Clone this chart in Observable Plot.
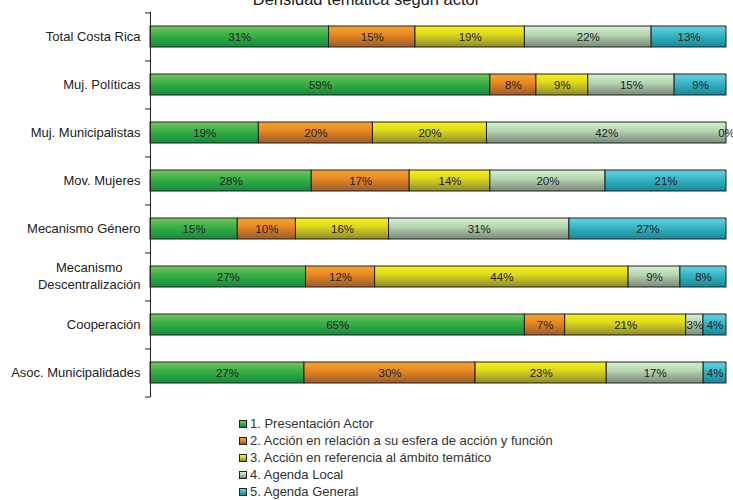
<!DOCTYPE html>
<html>
<head>
<meta charset="utf-8">
<script src="https://cdn.jsdelivr.net/npm/d3@7"></script>
<script src="https://cdn.jsdelivr.net/npm/@observablehq/plot@0.6"></script>
<style>
  html, body { margin: 0; padding: 0; background: #fff; overflow: hidden; }
  body { width: 733px; height: 500px; position: relative; font-family: "Liberation Sans", Arial, sans-serif; color: #222; }
  #title { position: absolute; left: 0; width: 733px; top: -9px; text-align: center; font-size: 16.5px; line-height: 16px; color: #222; z-index: 2; }
  #chart { position: absolute; left: 0; top: 0; z-index: 1; }
  #legend { position: absolute; left: 239px; top: 415px; font-size: 13px; color: #333; z-index: 2; }
  .li { height: 17px; line-height: 17px; display: flex; align-items: center; white-space: nowrap; }
  .sw { width: 6px; height: 6px; border: 1px solid #222; margin-right: 3px; }
</style>
</head>
<body>
<div id="chart"></div>
<div id="title">Densidad temática según actor</div>
<div id="legend"></div>
<script>
const actors = ["Total Costa Rica", "Muj. Políticas", "Muj. Municipalistas", "Mov. Mujeres", "Mecanismo Género", "Mecanismo Descentralización", "Cooperación", "Asoc. Municipalidades"];
const series = ["1. Presentación Actor", "2. Acción en relación a su esfera de acción y función", "3. Acción en referencia al ámbito temático", "4. Agenda Local", "5. Agenda General"];
const presentacion   = [31, 59, 19, 28, 15, 27, 65, 27];
const accionEsfera   = [15,  8, 20, 17, 10, 12,  7, 30];
const accionTematico = [19,  9, 20, 14, 16, 44, 21, 23];
const agendaLocal    = [22, 15, 42, 20, 31,  9,  3, 17];
const agendaGeneral  = [13,  9,  0, 21, 27,  8,  4,  4];

const seriesValues = [presentacion, accionEsfera, accionTematico, agendaLocal, agendaGeneral];
const grads = [
  ["#74c858", "#3db24a", "#15883b"],
  ["#f8a334", "#e88a22", "#985a2d"],
  ["#f6f224", "#dcd81e", "#8e892e"],
  ["#d6eed2", "#b8d6b4", "#788a78"],
  ["#6ad0de", "#3ab8c8", "#188594"]
];

const data = [];
actors.forEach((a, i) => {
  series.forEach((s, k) => data.push({actor: a, serie: s, value: seriesValues[k][i]}));
});

const W = 733, H = 410, mT = 12, mB = 13;
const step = (H - mT - mB) / actors.length;

const plot = Plot.plot({
  width: W, height: H,
  marginLeft: 150, marginRight: 7, marginTop: mT, marginBottom: mB,
  style: {fontFamily: "Liberation Sans, Arial, sans-serif", fontSize: "13px", color: "#222", background: "transparent"},
  x: {axis: null, domain: [0, 1]},
  y: {domain: actors, paddingInner: 0.56, paddingOuter: 0.28},
  color: {domain: series, range: series.map((s, k) => `url(#g${k})`)},
  marks: [
    Plot.axisY({label: null, tickSize: 0, tickPadding: 10, lineHeight: 1.35, dy: -2,
      tickFormat: d => d === "Mecanismo Descentralización" ? "Mecanismo\nDescentralización" : d}),
    Plot.barX(data, Plot.stackX({x: "value", y: "actor", z: "serie", fill: "serie", offset: "normalize", stroke: "#222", strokeWidth: 1})),
    Plot.text(data, Plot.stackX({x: "value", y: "actor", z: "serie", offset: "normalize", text: d => d.value + "%", fill: "#222", fontSize: 11.5})),
    Plot.ruleX([0], {stroke: "#222", strokeWidth: 1}),
    Plot.ruleY(actors, {y: d => d, x1: 0, x2: 5 / 576, dx: -5, dy: -step / 2, stroke: "#222"}),
    Plot.ruleY([actors[actors.length - 1]], {y: d => d, x1: 0, x2: 5 / 576, dx: -5, dy: step / 2, stroke: "#222"})
  ]
});

// gradient defs
const ns = "http://www.w3.org/2000/svg";
const defs = document.createElementNS(ns, "defs");
grads.forEach((g, k) => {
  const lg = document.createElementNS(ns, "linearGradient");
  lg.setAttribute("id", "g" + k);
  lg.setAttribute("x1", "0"); lg.setAttribute("y1", "0"); lg.setAttribute("x2", "0"); lg.setAttribute("y2", "1");
  [[0, g[0]], [0.4, g[1]], [1, g[2]]].forEach(([o, c]) => {
    const st = document.createElementNS(ns, "stop");
    st.setAttribute("offset", o); st.setAttribute("stop-color", c);
    lg.appendChild(st);
  });
  defs.appendChild(lg);
});
plot.insertBefore(defs, plot.firstChild);
document.getElementById("chart").appendChild(plot);

// center multi-line label like the original
plot.querySelectorAll("text").forEach(t => {
  const ts = t.querySelectorAll("tspan");
  if (ts.length > 1) {
    const widths = Array.from(ts).map(s => s.getComputedTextLength());
    const maxW = Math.max(...widths);
    t.setAttribute("text-anchor", "middle");
    ts.forEach(s => s.setAttribute("x", -maxW / 2));
  }
});

// legend
const legend = document.getElementById("legend");
series.forEach((s, k) => {
  const row = document.createElement("div");
  row.className = "li";
  const sw = document.createElement("span");
  sw.className = "sw";
  sw.style.background = `linear-gradient(${grads[k][0]}, ${grads[k][1]} 40%, ${grads[k][2]})`;
  row.appendChild(sw);
  row.appendChild(document.createTextNode(s));
  legend.appendChild(row);
});
</script>
</body>
</html>
